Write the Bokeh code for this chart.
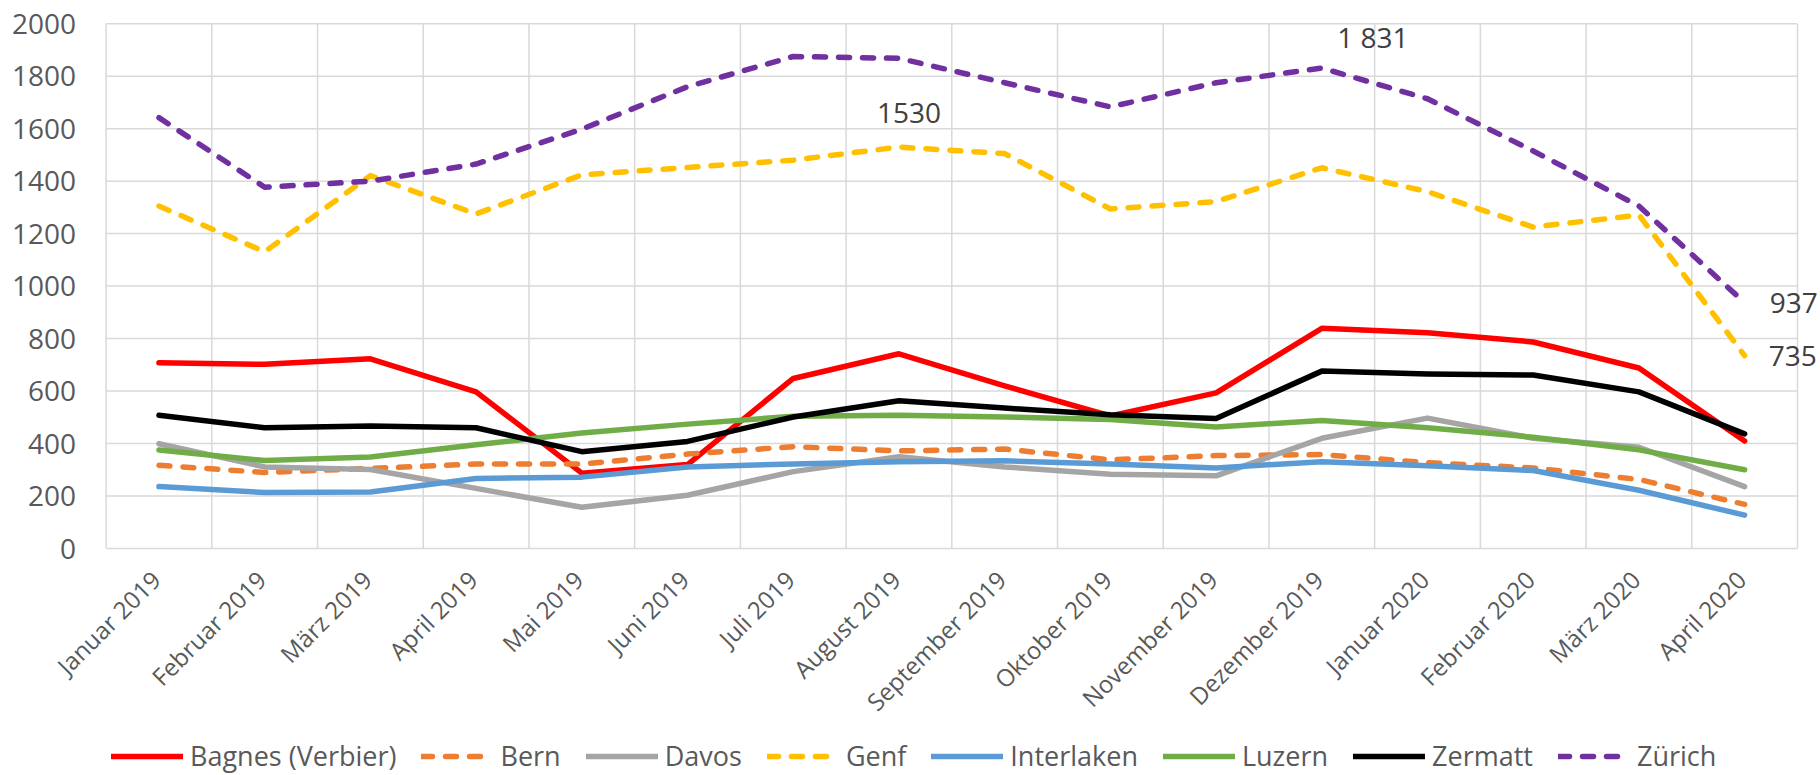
import math
from bokeh.plotting import figure
from bokeh.models import Range1d, Legend, LegendItem, Label
from bokeh.core.properties import value
from bokeh.embed import file_html
from bokeh.resources import INLINE

months = ["Januar 2019", "Februar 2019", "März 2019", "April 2019", "Mai 2019",
          "Juni 2019", "Juli 2019", "August 2019", "September 2019", "Oktober 2019",
          "November 2019", "Dezember 2019", "Januar 2020", "Februar 2020",
          "März 2020", "April 2020"]

bagnes = [708, 702, 723, 597, 287, 320, 648, 742, 620, 505, 593, 839, 822, 787, 688, 410]
bern = [317, 290, 305, 322, 322, 360, 388, 372, 379, 338, 354, 358, 327, 307, 263, 168]
davos = [399, 311, 301, 229, 157, 203, 293, 350, 311, 283, 277, 420, 497, 420, 386, 236]
genf = [1305, 1131, 1421, 1275, 1424, 1452, 1480, 1530, 1505, 1294, 1322, 1451, 1360, 1225, 1271, 735]
interlaken = [236, 213, 215, 267, 272, 311, 322, 331, 334, 322, 307, 331, 315, 297, 222, 127]
luzern = [375, 335, 349, 395, 440, 474, 504, 508, 501, 492, 463, 488, 460, 424, 376, 300]
zermatt = [508, 460, 467, 460, 369, 408, 501, 563, 535, 510, 495, 676, 665, 661, 597, 437]
zuerich = [1642, 1377, 1400, 1465, 1598, 1760, 1875, 1868, 1775, 1683, 1775, 1831, 1714, 1515, 1305, 937]

series_names = ["Bagnes (Verbier)", "Bern", "Davos", "Genf", "Interlaken", "Luzern", "Zermatt", "Zürich"]
series_values = [bagnes, bern, davos, genf, interlaken, luzern, zermatt, zuerich]
series_colors = ["#FF0000", "#ED7D31", "#A5A5A5", "#FFC000", "#5B9BD5", "#70AD47", "#000000", "#7030A0"]
series_dash = ["solid", "11 13", "solid", "11 13", "solid", "solid", "solid", "11 13"]

y_ticks = list(range(0, 2001, 200))
y_tick_labels = [str(t) for t in y_ticks]

# data labels: (series index, month index, text)
data_labels = [(3, 7, "1530"), (7, 11, "1 831"), (7, 15, "937"), (3, 15, "735")]

FONT = "Open Sans"
TXT = "#595959"

n = len(months)
xs = [i + 0.5 for i in range(n)]
bounds_x = list(range(n + 1))

# canvas geometry (the plot frame fills the whole canvas)
W, H = 1820, 775
x0_px, x1_px = 105.6, 1797.0     # pixel columns of the first / last category boundary
y0_px, ytop_px = 548.0, 23.2     # pixel rows of value 0 / top tick
x_px = (x1_px - x0_px) / n
y_px = (y0_px - ytop_px) / y_ticks[-1]

p = figure(width=W, height=H, output_backend="svg", toolbar_location=None,
           x_range=Range1d(-x0_px / x_px, n + (W - x1_px) / x_px),
           y_range=Range1d(-(H - y0_px) / y_px, y_ticks[-1] + ytop_px / y_px),
           x_axis_location=None, y_axis_location=None,
           min_border=0)
p.outline_line_color = None
p.background_fill_color = "white"
p.border_fill_color = "white"
p.xgrid.visible = False
p.ygrid.visible = False

GRID = "#D9D9D9"
# vertical grid lines at category boundaries
p.segment(x0=bounds_x, y0=[y_ticks[0]] * len(bounds_x), x1=bounds_x, y1=[y_ticks[-1]] * len(bounds_x),
          line_color=GRID, line_width=1.5)
# horizontal grid lines
p.segment(x0=[bounds_x[0]] * len(y_ticks), y0=y_ticks, x1=[bounds_x[-1]] * len(y_ticks), y1=y_ticks,
          line_color=GRID, line_width=1.5)

renderers = []
for name, vals, col, dash in zip(series_names, series_values, series_colors, series_dash):
    r = p.line(xs, vals, line_color=col, line_width=5.5, line_dash=dash,
               line_cap="round", line_join="round")
    renderers.append(r)

# y tick labels
p.text(x=[bounds_x[0]] * len(y_ticks), y=y_ticks, text=y_tick_labels,
       x_offset=-30, text_align="right", text_baseline="middle",
       text_font=value(FONT), text_font_size="28px", text_color=TXT)

# category labels (rotated)
p.text(x=xs, y=[y_ticks[0]] * n, text=months, angle=math.pi / 4,
       text_align="right", text_baseline="top", x_offset=-15, y_offset=15,
       text_font=value(FONT), text_font_size="24px", text_color=TXT)

# data labels
label_cfg = {
    "1530": dict(x_offset=10, y_offset=34, text_align="center", text_baseline="alphabetic"),
    "1 831": dict(x_offset=51, y_offset=31, text_align="center", text_baseline="alphabetic"),
    "937": dict(x_offset=25, y_offset=0, text_align="left", text_baseline="middle"),
    "735": dict(x_offset=24, y_offset=0, text_align="left", text_baseline="middle"),
}
for si, mi, txt in data_labels:
    lab = Label(x=xs[mi], y=series_values[si][mi], text=txt,
                text_font=FONT, text_font_size="28px", text_color="#404040",
                **label_cfg[txt])
    p.add_layout(lab)

legend = Legend(items=[LegendItem(label=nm, renderers=[r]) for nm, r in zip(series_names, renderers)],
                orientation="horizontal", location=(111, 1),
                label_text_font=FONT, label_text_font_size="27px", label_text_color=TXT,
                glyph_width=72, glyph_height=30, label_standoff=7, spacing=25,
                padding=0, margin=0, border_line_color=None, background_fill_alpha=0)
p.add_layout(legend)

open("out.html", "w").write(file_html(p, INLINE))
